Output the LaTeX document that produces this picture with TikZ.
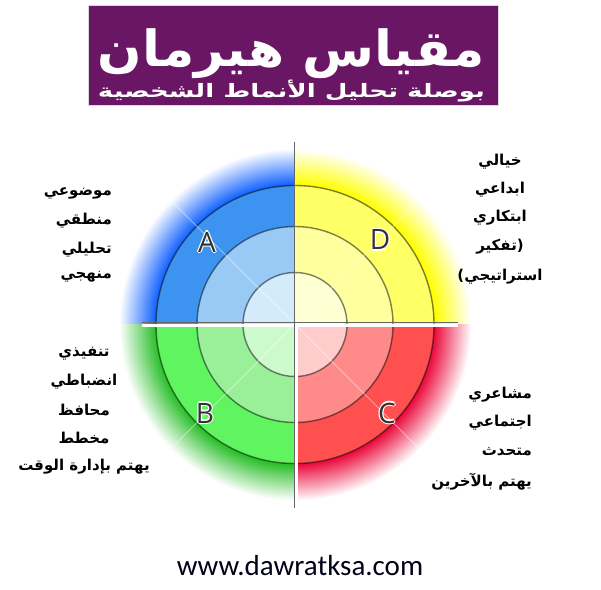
\documentclass[tikz,border=0pt]{standalone}
\usepackage{fontspec}
\usepackage{graphicx}
\setsansfont{Open Sans}
\newfontfamily\arabicfont[Script=Arabic]{DejaVu Sans}
\newfontfamily\urlfont{Carlito}
\TeXXeTstate=1
\usepackage{tikz}
\usetikzlibrary{positioning}

% quadrant colours: 1 = inner disc, 2 = middle ring, 3 = outer ring
\definecolor{banner}{RGB}{105,22,100}
\definecolor{qA1}{RGB}{212,235,252}
\definecolor{qA2}{RGB}{153,201,245}
\definecolor{qA3}{RGB}{61,148,240}
\definecolor{qAfade}{RGB}{16,96,255}
\definecolor{qD1}{RGB}{255,255,212}
\definecolor{qD2}{RGB}{255,255,158}
\definecolor{qD3}{RGB}{255,255,102}
\definecolor{qDfade}{RGB}{255,255,0}
\definecolor{qB1}{RGB}{204,250,204}
\definecolor{qB2}{RGB}{153,240,153}
\definecolor{qB3}{RGB}{96,244,96}
\definecolor{qBfade}{RGB}{40,190,40}
\definecolor{qC1}{RGB}{255,204,204}
\definecolor{qC2}{RGB}{255,138,138}
\definecolor{qC3}{RGB}{255,80,80}
\definecolor{qCfade}{RGB}{235,10,60}

% fade from the outer ring to white (circle edge = 25bp)
\pgfdeclareradialshading{fadeA}{\pgfpointorigin}{color(0bp)=(qAfade); color(19.8bp)=(qAfade); color(25bp)=(white); color(50bp)=(white)}
\pgfdeclareradialshading{fadeB}{\pgfpointorigin}{color(0bp)=(qBfade); color(19.8bp)=(qBfade); color(25bp)=(white); color(50bp)=(white)}
\pgfdeclareradialshading{fadeC}{\pgfpointorigin}{color(0bp)=(qCfade); color(19.8bp)=(qCfade); color(25bp)=(white); color(50bp)=(white)}
\pgfdeclareradialshading{fadeD}{\pgfpointorigin}{color(0bp)=(qDfade); color(19.8bp)=(qDfade); color(25bp)=(white); color(50bp)=(white)}

\newcommand{\artext}[1]{\beginR#1\endR}

\begin{document}
\begin{tikzpicture}[
    x=1pt, y=-1pt,
    every node/.style={inner sep=0pt},
    ring/.style={draw=black, draw opacity=0.5, line width=1.4pt},
    desc/.style={font=\arabicfont\bfseries\fontsize{15}{17}\selectfont, text=black},
    letter/.style={font=\sffamily\fontsize{28}{30}\selectfont, text=black!80}
]
\useasboundingbox (0,0) rectangle (601,589);
\fill[white] (0,0) rectangle (601,589);

% --- radii of the wheel
\def\rone{52}
\def\rtwo{98}
\def\rthree{139}
\def\rfade{176}
\coordinate (O) at (295,324.5);

% --- title banner
\fill[banner] (88,5) rectangle (498,105);
\draw[black!15, line width=1pt] (88,5) rectangle (498,105);
\node[anchor=north, text=white] (title) at (291.5,28)
  {\resizebox*{387pt}{50pt}{\arabicfont\bfseries\artext{مقياس هيرمان}}};
\node[anchor=north, text=white] (subtitle) at (291.5,80)
  {\resizebox*{387pt}{22pt}{\arabicfont\bfseries\artext{بوصلة تحليل الأنماط الشخصية}}};

% --- quadrants (fade, outer ring, middle ring, inner disc)
\foreach \q/\sx/\sy in {A/-1/-1, D/1/-1, B/-1/1, C/1/1} {
  \begin{scope}
    \clip (O) rectangle ++(\sx*200,\sy*200);
    \shade[shading=fade\q] (O) circle[radius=\rfade];
    \fill[q\q3] (O) circle[radius=\rthree];
    \fill[q\q2] (O) circle[radius=\rtwo];
    \fill[q\q1] (O) circle[radius=\rone];
  \end{scope}
}
\foreach \r in {\rone,\rtwo,\rthree}
  \draw[ring] (O) circle[radius=\r];

% faint diagonal highlights
\foreach \a in {45,135,225,315}
  \draw[white, opacity=0.45, line width=1pt] (O) -- ++(\a:178);

% separators
\draw[white, line width=3pt] (142,325) -- (458,325);
\draw[black!60, line width=0.8pt] (142,322.7) -- (458,322.7);
\draw[white, line width=2.6pt] (296.6,325) -- (296.6,508);
\draw[black!60, line width=1pt] (294.2,142) -- (294.2,508);

% --- quadrant letters (white halo under dark letter)
\foreach \q/\x/\y in {A/207/242, D/380/240, B/205/413, C/387/413} {
  \foreach \dx/\dy in {-1.3/0, 1.3/0, 0/-1.3, 0/1.3}
    \node[letter, text=white] at (\x+\dx,\y+\dy) {\q};
  \node[letter] (let\q) at (\x,\y) {\q};
}

% --- descriptions
% A (top left), right aligned
\foreach \i/\y/\lab in {1/193/{موضوعي}, 2/221/{منطقي}, 3/250/{تحليلي}, 4/277/{منهجي}}
  \node[desc, anchor=east] (descA\i) at (112,\y) {\artext{\lab}};

% D (top right), centred
\foreach \i/\y/\lab in {1/162/{\artext{خيالي}}, 2/190/{\artext{ابداعي}},
    3/218/{\artext{ابتكاري}}, 4/247/{\artext{تفكير}(}, 5/277/{)\artext{استراتيجي}}}
  \node[desc] (descD\i) at (500,\y) {\lab};

% B (bottom left), centred
\foreach \i/\y/\lab in {1/354/{تنفيذي}, 2/382/{انضباطي}, 3/410/{محافظ},
    4/438/{مخطط}, 5/467/{يهتم بإدارة الوقت}}
  \node[desc] (descB\i) at (84,\y) {\artext{\lab}};

% C (bottom right), right aligned
\foreach \i/\y/\lab in {1/395/{مشاعري}, 2/423/{اجتماعي}, 3/452/{متحدث}, 4/482/{يهتم بالآخرين}}
  \node[desc, anchor=east] (descC\i) at (532,\y) {\artext{\lab}};

% --- footer
\node[anchor=base, font=\urlfont\fontsize{29}{31}\selectfont, text=black!90!blue] (site)
  at (300,575) {www.dawratksa.com};
\end{tikzpicture}
\end{document}
